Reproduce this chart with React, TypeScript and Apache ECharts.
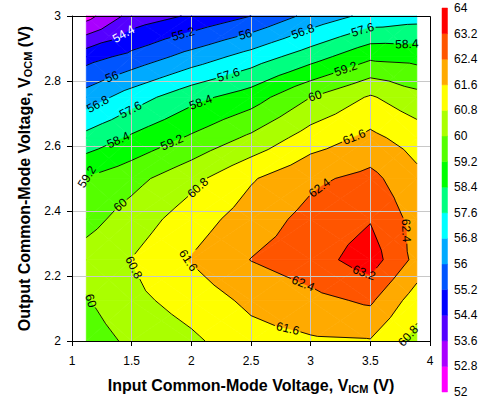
import React, { useEffect, useRef } from "react";
import * as echarts from "echarts";

const FONT = 'Arial, "Liberation Sans", sans-serif';

// Input common-mode voltage grid (V) and output common-mode voltage grid (V)
const vicm = [1.12, 1.5, 2, 2.5, 3, 3.5, 3.89];
const vocm = [2, 2.125, 2.25, 2.375, 2.5, 2.625, 2.75, 2.875, 3];

// Measured values at each VOCM row (columns follow vicm)
const at2000 = [59.6, 60.16, 60.65, 61.3, 61.5, 61.55, 60.5];
const at2125 = [59.94, 60.58, 61.14, 61.78, 62.17, 62.53, 61.19];
const at2250 = [60.35, 60.82, 61.65, 62.42, 62.85, 63.6, 62.15];
const at2375 = [59.71, 60.36, 61.21, 61.99, 62.65, 63.15, 62.1];
const at2500 = [59.25, 59.74, 60.56, 61.52, 62.24, 62.63, 61.8];
const at2625 = [57.87, 58.53, 59.32, 60.16, 61.18, 61.79, 61.25];
const at2750 = [56.34, 57.21, 58.14, 58.81, 60.0, 60.89, 60.26];
const at2875 = [54.88, 55.43, 56.31, 57.13, 58.04, 59.03, 58.93];
const at3000 = [52.5, 53.9, 54.5, 55.2, 56.24, 57.04, 57.27];
const rows = [at2000, at2125, at2250, at2375, at2500, at2625, at2750, at2875, at3000];

// Contour levels / colour bar ticks
const levels = [52, 52.8, 53.6, 54.4, 55.2, 56, 56.8, 57.6, 58.4, 59.2, 60, 60.8, 61.6, 62.4, 63.2, 64];
const bandColors = [
  "#FF00FF", "#AA00FF", "#5500FF", "#0000FF", "#0055FF", "#00AAFF", "#00FFFF",
  "#00FF80", "#00FF00", "#55FF00", "#AAFF00", "#FFFF00", "#FFAA00", "#FF5500", "#FF0000",
];

const xTicks = [1, 4, 0.5]; // min, max, interval
const yTicks = [2, 3, 0.2];

// Contour labels: text, approx VICM, approx VOCM, angle (deg), colour, keep angle as read
const contourLabels: [string, number, number, number, string, boolean][] = [
  ["54.4", 1.444, 2.937, 20, "#ffffff", false],
  ["55.2", 1.933, 2.942, 10, "#000", false],
  ["56", 2.45, 2.947, 10, "#000", false],
  ["56.8", 2.94, 2.947, 10, "#000", false],
  ["57.6", 3.44, 2.952, 8, "#000", false],
  ["58.4", 3.805, 2.919, -12, "#000", false],
  ["56", 1.333, 2.814, 20, "#000", false],
  ["57.6", 2.31, 2.82, 12, "#000", false],
  ["56.8", 1.207, 2.735, 25, "#000", false],
  ["57.6", 1.472, 2.724, 20, "#000", false],
  ["58.4", 2.073, 2.74, 18, "#000", false],
  ["59.2", 3.3, 2.831, 12, "#000", false],
  ["60", 3.04, 2.75, 20, "#000", false],
  ["58.4", 1.388, 2.618, 22, "#000", false],
  ["59.2", 1.835, 2.613, 22, "#000", false],
  ["59.2", 1.13, 2.5, 58, "#000", true],
  ["60", 1.402, 2.42, 45, "#000", false],
  ["60.8", 2.045, 2.476, 50, "#000", false],
  ["61.6", 3.37, 2.623, 25, "#000", false],
  ["62.4", 3.064, 2.476, 45, "#000", false],
  ["62.4", 3.805, 2.34, -80, "#000", false],
  ["60.8", 1.472, 2.218, -50, "#000", false],
  ["61.6", 1.975, 2.248, -55, "#000", false],
  ["60", 1.14, 2.12, -72, "#000", true],
  ["63.2", 3.455, 2.218, -5, "#000", false],
  ["62.4", 2.925, 2.167, -15, "#000", false],
  ["61.6", 2.813, 2.046, -8, "#000", false],
  ["60.8", 3.79, 2.025, 45, "#000", false],
];

type P = [number, number, number];

function clip(poly: P[], lv: number, above: boolean): P[] {
  const out: P[] = [];
  const n = poly.length;
  for (let i = 0; i < n; i++) {
    const a = poly[i];
    const b = poly[(i + 1) % n];
    const ain = above ? a[2] >= lv : a[2] <= lv;
    const bin = above ? b[2] >= lv : b[2] <= lv;
    if (ain) out.push(a);
    if (ain !== bin) {
      const t = (lv - a[2]) / (b[2] - a[2]);
      out.push([a[0] + t * (b[0] - a[0]), a[1] + t * (b[1] - a[1]), lv]);
    }
  }
  return out;
}

function triangles(api: any): P[][] {
  const tris: P[][] = [];
  for (let j = 0; j < vocm.length - 1; j++) {
    for (let i = 0; i < vicm.length - 1; i++) {
      const c: P[] = [
        [i, j],
        [i + 1, j],
        [i + 1, j + 1],
        [i, j + 1],
      ].map(([a, b]) => {
        const p = api.coord([vicm[a], vocm[b]]);
        return [p[0], p[1], rows[b][a]] as P;
      });
      const ctr: P = [
        (c[0][0] + c[1][0] + c[2][0] + c[3][0]) / 4,
        (c[0][1] + c[1][1] + c[2][1] + c[3][1]) / 4,
        (c[0][2] + c[1][2] + c[2][2] + c[3][2]) / 4,
      ];
      for (let k = 0; k < 4; k++) tris.push([c[k], c[(k + 1) % 4], ctr]);
    }
  }
  return tris;
}

function textWidth(s: string) {
  let w = 0;
  for (const ch of s) w += ch === "." ? 3.34 : 6.67;
  return w;
}

function renderFill(_params: any, api: any) {
  const children: any[] = [];
  const tris = triangles(api);
  for (const tri of tris) {
    for (let k = 0; k < bandColors.length; k++) {
      let poly = clip(tri, levels[k], true);
      if (poly.length < 3) continue;
      poly = clip(poly, levels[k + 1], false);
      if (poly.length < 3) continue;
      children.push({
        type: "polygon",
        silent: true,
        shape: { points: poly.map((p) => [p[0], p[1]]) },
        style: { fill: bandColors[k], stroke: bandColors[k], lineWidth: 0.7 },
      });
    }
  }
  return { type: "group", children };
}

function renderLines(_params: any, api: any) {
  const tris = triangles(api);
  type Seg = { lv: number; a: number[]; b: number[] };
  let segs: Seg[] = [];
  for (const tri of tris) {
    for (let k = 1; k < levels.length - 1; k++) {
      const lv = levels[k];
      const pts: number[][] = [];
      for (let e = 0; e < 3; e++) {
        const a = tri[e];
        const b = tri[(e + 1) % 3];
        if ((a[2] >= lv) !== (b[2] >= lv)) {
          const t = (lv - a[2]) / (b[2] - a[2]);
          pts.push([a[0] + t * (b[0] - a[0]), a[1] + t * (b[1] - a[1])]);
        }
      }
      if (pts.length === 2) segs.push({ lv, a: pts[0], b: pts[1] });
    }
  }

  // place labels on nearest point of own contour
  const placed: { x: number; y: number; r: number; rot: number; text: string; color: string }[] = [];
  for (const [text, lx, ly, hint, color, fixed] of contourLabels) {
    const lv = parseFloat(text);
    const c = api.coord([lx, ly]);
    const h = (hint * Math.PI) / 180;
    let best = Infinity;
    let bx = c[0];
    let by = c[1];
    let ang = h;
    for (const s of segs) {
      if (Math.abs(s.lv - lv) > 1e-6) continue;
      const dx = s.b[0] - s.a[0];
      const dy = s.b[1] - s.a[1];
      const L2 = dx * dx + dy * dy;
      if (L2 < 1e-9) continue;
      let t = ((c[0] - s.a[0]) * dx + (c[1] - s.a[1]) * dy) / L2;
      t = Math.max(0, Math.min(1, t));
      const px = s.a[0] + t * dx;
      const py = s.a[1] + t * dy;
      const d = Math.hypot(px - c[0], py - c[1]);
      if (d < best) {
        best = d;
        bx = px;
        by = py;
        let th = Math.atan2(-dy, dx);
        while (th - h > Math.PI / 2) th -= Math.PI;
        while (h - th > Math.PI / 2) th += Math.PI;
        ang = fixed ? h : th;
      }
    }
    placed.push({ x: bx, y: by, r: textWidth(text) / 2 + 1.5, rot: ang, text, color });
  }

  // cut contour lines under labels
  for (const lab of placed) {
    const next: Seg[] = [];
    for (const s of segs) {
      const dx = s.b[0] - s.a[0];
      const dy = s.b[1] - s.a[1];
      const fx = s.a[0] - lab.x;
      const fy = s.a[1] - lab.y;
      const A = dx * dx + dy * dy;
      const B = 2 * (fx * dx + fy * dy);
      const C = fx * fx + fy * fy - lab.r * lab.r;
      const disc = B * B - 4 * A * C;
      if (A < 1e-9 || disc <= 0) {
        next.push(s);
        continue;
      }
      const sq = Math.sqrt(disc);
      const t1 = (-B - sq) / (2 * A);
      const t2 = (-B + sq) / (2 * A);
      if (t2 <= 0 || t1 >= 1) {
        next.push(s);
        continue;
      }
      if (t1 > 0) next.push({ lv: s.lv, a: s.a, b: [s.a[0] + t1 * dx, s.a[1] + t1 * dy] });
      if (t2 < 1) next.push({ lv: s.lv, a: [s.a[0] + t2 * dx, s.a[1] + t2 * dy], b: s.b });
    }
    segs = next;
  }

  const children: any[] = segs.map((s) => ({
    type: "line",
    silent: true,
    shape: { x1: s.a[0], y1: s.a[1], x2: s.b[0], y2: s.b[1] },
    style: { stroke: "#000", lineWidth: 0.9 },
  }));
  for (const lab of placed) {
    children.push({
      type: "text",
      silent: true,
      x: lab.x,
      y: lab.y,
      rotation: lab.rot,
      style: {
        text: lab.text,
        fill: lab.color,
        fontSize: 12,
        fontFamily: FONT,
        align: "center",
        verticalAlign: "middle",
      },
    });
  }
  const p0 = api.coord([xTicks[0], yTicks[1]]);
  const p1 = api.coord([xTicks[1], yTicks[0]]);
  children.push({
    type: "rect",
    silent: true,
    shape: {
      x: Math.round(p0[0]) + 0.5,
      y: Math.round(p0[1]) + 0.5,
      width: Math.round(p1[0]) - Math.round(p0[0]),
      height: Math.round(p1[1]) - Math.round(p0[1]),
    },
    style: { fill: "none", stroke: "#000", lineWidth: 1 },
  });
  return { type: "group", children };
}

function renderBar(_params: any, api: any) {
  const lo = api.value(1);
  const hi = api.value(2);
  const k = api.value(3);
  const a = api.coord([0, lo]);
  const b = api.coord([1, hi]);
  return {
    type: "rect",
    silent: true,
    shape: { x: a[0], y: b[1], width: b[0] - a[0], height: a[1] - b[1] },
    style: { fill: bandColors[k], stroke: bandColors[k], lineWidth: 0.5 },
  };
}

const titleRich = {
  t: { fontSize: 16, fontWeight: "bold", fontFamily: FONT, color: "#000", lineHeight: 18 },
  s: { fontSize: 11, fontWeight: "bold", fontFamily: FONT, color: "#000", verticalAlign: "bottom" },
};

export default function App() {
  const ref = useRef<HTMLDivElement>(null);
  useEffect(() => {
    const chart = echarts.init(ref.current!, undefined, { renderer: "svg" });
    const axisLabel = { color: "#000", fontSize: 12, fontFamily: FONT };
    chart.setOption({
      animation: false,
      backgroundColor: "#fff",
      grid: [
        { left: 72, top: 16, width: 358, height: 329, containLabel: false },
        { left: 442, top: 8, width: 5.5, height: 384, containLabel: false },
      ],
      xAxis: [
        {
          type: "value",
          gridIndex: 0,
          min: xTicks[0],
          max: xTicks[1],
          interval: xTicks[2],
          z: 3,
          axisLine: { show: true, lineStyle: { color: "#000", width: 1 } },
          axisTick: { show: true, length: 5, lineStyle: { color: "#000" } },
          axisLabel: { ...axisLabel, margin: 14 },
          splitLine: { show: true, lineStyle: { color: "#C8C8C8", width: 1 } },
          name: "{t|Input Common-Mode Voltage, V}{s|ICM}{t| (V)}",
          nameLocation: "middle",
          nameGap: 35,
          nameTextStyle: { rich: titleRich },
        },
        { type: "value", gridIndex: 1, min: 0, max: 1, show: false },
      ],
      yAxis: [
        {
          type: "value",
          gridIndex: 0,
          min: yTicks[0],
          max: yTicks[1],
          interval: yTicks[2],
          z: 3,
          axisLine: { show: true, lineStyle: { color: "#000", width: 1 } },
          axisTick: { show: true, length: 5, lineStyle: { color: "#000" } },
          axisLabel: { ...axisLabel, margin: 11 },
          splitLine: { show: true, lineStyle: { color: "#C8C8C8", width: 1 } },
          name: "{t|Output Common-Mode Voltage, V}{s|OCM}{t| (V)}",
          nameLocation: "middle",
          nameGap: 36,
          nameTextStyle: { rich: titleRich },
        },
        {
          type: "value",
          gridIndex: 1,
          position: "right",
          min: levels[0],
          max: levels[levels.length - 1],
          interval: 0.8,
          axisLine: { show: false },
          axisTick: { show: false },
          splitLine: { show: false },
          axisLabel: {
            ...axisLabel,
            margin: 6.5,
            formatter: (v: number) => String(Math.round(v * 10) / 10),
          },
        },
      ],
      series: [
        {
          type: "custom",
          xAxisIndex: 0,
          yAxisIndex: 0,
          z: 1,
          silent: true,
          clip: false,
          data: [[vicm[0], vocm[0]]],
          encode: { x: 0, y: 1 },
          renderItem: renderFill,
        },
        {
          type: "custom",
          xAxisIndex: 0,
          yAxisIndex: 0,
          z: 5,
          silent: true,
          clip: false,
          data: [[vicm[0], vocm[0]]],
          encode: { x: 0, y: 1 },
          renderItem: renderLines,
        },
        {
          type: "custom",
          xAxisIndex: 1,
          yAxisIndex: 1,
          z: 1,
          silent: true,
          data: bandColors.map((_, k) => [0.5, levels[k], levels[k + 1], k]),
          encode: { x: 0, y: [1, 2] },
          renderItem: renderBar,
        },
      ],
    });
    return () => chart.dispose();
  }, []);
  return (
    <div
      ref={ref}
      style={{ width: 497, height: 399, position: "absolute", left: 0, top: 0 }}
    />
  );
}
